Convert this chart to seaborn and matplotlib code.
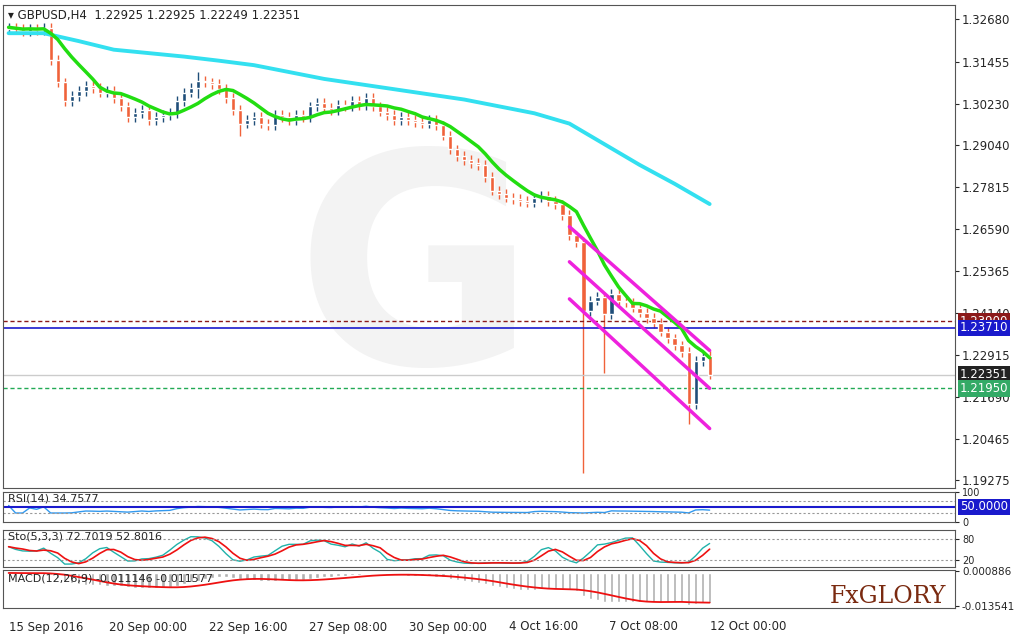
import numpy as np
import pandas as pd
import matplotlib
matplotlib.use("Agg")
import matplotlib.pyplot as plt
import seaborn as sns

# ---- data ----
closes = [1.3245, 1.3240, 1.3235, 1.3242, 1.3238, 1.3244, 1.3150, 1.3085, 1.3030, 1.3045,
          1.3060, 1.3075, 1.3068, 1.3055, 1.3060, 1.3040, 1.3015, 1.2985, 1.2995, 1.3005,
          1.2975, 1.2985, 1.2990, 1.2995, 1.3030, 1.3055, 1.3070, 1.3090, 1.3085, 1.3080,
          1.3065, 1.3040, 1.3005, 1.2965, 1.2975, 1.2985, 1.2965, 1.2960, 1.2990, 1.2985,
          1.2975, 1.2990, 1.2985, 1.3015, 1.3025, 1.3010, 1.3005, 1.3020, 1.3015, 1.3030,
          1.3020, 1.3040, 1.3015, 1.3000, 1.2990, 1.2975, 1.2985, 1.2975, 1.2970, 1.2965,
          1.2975, 1.2960, 1.2930, 1.2890, 1.2870, 1.2860, 1.2850, 1.2845, 1.2810, 1.2770,
          1.2760, 1.2750, 1.2745, 1.2740, 1.2735, 1.2750, 1.2755, 1.2740, 1.2730, 1.2700,
          1.2640, 1.2620, 1.2420, 1.2450, 1.2460, 1.2410, 1.2470, 1.2450, 1.2445, 1.2430,
          1.2415, 1.2400, 1.2385, 1.2360, 1.2340, 1.2320, 1.2300, 1.2150, 1.2275, 1.2290,
          1.22351]
first_open = 1.3240
wick = 0.0014
low_spikes = {82: 1.1950, 85: 1.2240, 97: 1.2090, 27: 1.3040, 33: 1.2930}
high_spikes = {27: 1.3115, 98: 1.2290, 99: 1.2300}

ma_slow_idx = list(range(0, 101, 5))
ma_slow = [1.3228, 1.3228, 1.3205, 1.3180, 1.3170, 1.3160, 1.3148, 1.3135, 1.3115, 1.3095,
           1.3080, 1.3065, 1.3050, 1.3035, 1.3015, 1.2995, 1.2965, 1.2905, 1.2845, 1.2790, 1.2731]

channel_idx = [80, 100]
channel_upper = [1.2665, 1.2305]
channel_mid = [1.2563, 1.2195]
channel_lower = [1.2455, 1.2078]

level_res = 1.2390
level_blue = 1.23710
level_last = 1.22351
level_sup = 1.21950

price_ticks = [1.32680, 1.31455, 1.30230, 1.29040, 1.27815, 1.26590, 1.25365,
               1.24140, 1.22915, 1.21690, 1.20465, 1.19275]
date_labels = ["15 Sep 2016", "20 Sep 00:00", "22 Sep 16:00", "27 Sep 08:00",
               "30 Sep 00:00", "4 Oct 16:00", "7 Oct 08:00", "12 Oct 00:00"]
date_pos = [0, 14.3, 28.6, 42.9, 57.1, 71.4, 85.7, 100]

# ---- build OHLC ----
df = pd.DataFrame({"close": closes})
df["open"] = [first_open] + closes[:-1]
df["high"] = df[["open", "close"]].max(axis=1) + wick
df["low"] = df[["open", "close"]].min(axis=1) - wick
for k, v in low_spikes.items():
    df.loc[k, "low"] = v
for k, v in high_spikes.items():
    df.loc[k, "high"] = v
df["i"] = np.arange(len(df))
df["ma_fast"] = df["close"].rolling(8, min_periods=1).mean()

# indicators
d = df["close"].diff().fillna(0)
up = d.clip(lower=0).ewm(alpha=1/14, adjust=True).mean()
dn = (-d.clip(upper=0)).ewm(alpha=1/14, adjust=True).mean()
rsi = 100 - 100 / (1 + up / dn.replace(0, np.nan))
df["rsi"] = (0.5 * rsi + 25).fillna(55).clip(30, 60)
hh = df["high"].rolling(5, min_periods=1).max()
ll = df["low"].rolling(5, min_periods=1).min()
k_raw = 100 * (df["close"] - ll) / (hh - ll)
df["stoK"] = k_raw.rolling(3, min_periods=1).mean()
df["stoD"] = df["stoK"].rolling(3, min_periods=1).mean()
df["macd"] = df["close"].ewm(span=12, adjust=False).mean() - df["close"].ewm(span=26, adjust=False).mean()
df["signal"] = df["macd"].rolling(9, min_periods=1).mean()

sns.set_style("white")
plt.rcParams["font.family"] = ["DejaVu Sans"]
fig = plt.figure(figsize=(10.24, 6.36), dpi=100)
W, H = 1024, 636
def box(x0, y0, x1, y1):
    return [x0 / W, 1 - y1 / H, (x1 - x0) / W, (y1 - y0) / H]

xlim = (-0.8, 135.0)
ax = fig.add_axes(box(3, 5, 955, 488))
ax_rsi = fig.add_axes(box(3, 492, 955, 522))
ax_sto = fig.add_axes(box(3, 530, 955, 567))
ax_macd = fig.add_axes(box(3, 570, 955, 608))

for a in (ax, ax_rsi, ax_sto, ax_macd):
    a.set_xlim(*xlim)
    a.yaxis.tick_right()
    a.tick_params(axis="y", labelsize=8.5, length=3, pad=2)
    a.set_xticks([])
    for s in a.spines.values():
        s.set_color("#555555")
        s.set_linewidth(0.8)

# watermark
ax.text(58, 1.250, "G", fontsize=210, color="#f3f3f3", ha="center", va="center",
        fontweight="bold", zorder=0)

up_c, dn_c = "#1f4e79", "#f0623a"
bull = df["close"] >= df["open"]
ax.vlines(df["i"], df["low"], df["high"], colors=np.where(bull, up_c, dn_c), lw=1, zorder=2)
ax.bar(df["i"], (df["close"] - df["open"]).abs().clip(lower=0.0003),
       bottom=df[["open", "close"]].min(axis=1), width=0.6,
       color=np.where(bull, up_c, dn_c), zorder=3)

sns.lineplot(x=ma_slow_idx, y=ma_slow, ax=ax, color="#33e0f0", lw=2.8, zorder=4)
sns.lineplot(data=df, x="i", y="ma_fast", ax=ax, color="#22dd11", lw=2.5, zorder=5)
for ch in (channel_upper, channel_mid, channel_lower):
    ax.plot(channel_idx, ch, color="#ee22dd", lw=2.5, zorder=6)

ax.axhline(level_res, color="#8b1a1a", ls=(0, (3, 2)), lw=1)
ax.axhline(level_blue, color="#1a1acc", lw=1.2)
ax.axhline(level_last, color="#cccccc", lw=1)
ax.axhline(level_sup, color="#22aa55", ls=(0, (3, 2)), lw=1)

ax.set_ylim(1.1905, 1.3310)
ax.set_yticks(price_ticks)
ax.set_yticklabels([f"{t:.5f}" for t in price_ticks])
ax.set_xlabel(""); ax.set_ylabel("")
for val, fc, tc in [(level_res, "#8b1a1a", "white"), (level_blue, "#1a1acc", "white"),
                    (level_last, "#222222", "white"), (level_sup, "#33aa66", "white")]:
    ax.text(1.005, val, f"{val:.5f}", transform=ax.get_yaxis_transform(), fontsize=8.5,
            color=tc, va="center", ha="left", zorder=10,
            bbox=dict(boxstyle="square,pad=0.15", fc=fc, ec="none"))
ax.text(0.005, 0.992, "\u25be GBPUSD,H4  1.22925 1.22925 1.22249 1.22351",
        transform=ax.transAxes, fontsize=8.5, va="top", color="#222222")

# RSI
ax_rsi.plot(df["i"], df["rsi"], color="#3399ee", lw=1)
ax_rsi.axhline(50, color="#1a1acc", lw=1.5)
for lv in (70, 30):
    ax_rsi.axhline(lv, color="#999999", ls=(0, (2, 2)), lw=0.8)
ax_rsi.set_ylim(0, 100)
ax_rsi.set_yticks([100, 0]); ax_rsi.set_yticklabels(["100", "0"], fontsize=7)
ax_rsi.text(1.005, 50, "50.0000", transform=ax_rsi.get_yaxis_transform(), fontsize=8.5,
            color="white", va="center", bbox=dict(boxstyle="square,pad=0.15", fc="#1a1acc", ec="none"))
ax_rsi.text(0.005, 0.95, "RSI(14) 34.7577", transform=ax_rsi.transAxes, fontsize=8, va="top")

# Stochastic
ax_sto.plot(df["i"], df["stoK"], color="#20b2aa", lw=1)
ax_sto.plot(df["i"], df["stoD"], color="#ee1111", lw=1.2)
for lv in (80, 20):
    ax_sto.axhline(lv, color="#999999", ls=(0, (2, 2)), lw=0.8)
ax_sto.set_ylim(0, 105)
ax_sto.set_yticks([80, 20]); ax_sto.set_yticklabels(["80", "20"], fontsize=7)
ax_sto.text(0.005, 0.95, "Sto(5,3,3) 72.7019 52.8016", transform=ax_sto.transAxes, fontsize=8, va="top")

# MACD
ax_macd.bar(df["i"], df["macd"], width=0.5, color="#b0b0b0")
ax_macd.plot(df["i"], df["signal"], color="#ee1111", lw=1.3)
ax_macd.set_ylim(df["macd"].min() * 1.1, 0.0012)
ax_macd.set_yticks([0.000886, -0.013541])
ax_macd.set_yticklabels(["0.000886", "-0.013541"], fontsize=7.5)
ax_macd.text(0.005, 0.92, "MACD(12,26,9) -0.011146 -0.011577", transform=ax_macd.transAxes,
             fontsize=8, va="top")
ax_macd.text(0.93, 0.3, "FxGLORY", transform=ax_macd.transAxes, fontsize=17, ha="center",
             va="center", color="#7a2a10", family="DejaVu Serif")

ax_macd.set_xticks(date_pos)
ax_macd.set_xticklabels(date_labels, fontsize=8.5)
ax_macd.tick_params(axis="x", length=3, pad=6)
for l in ax_macd.get_xticklabels():
    l.set_ha("left")

fig.savefig("out.png", dpi=100)
